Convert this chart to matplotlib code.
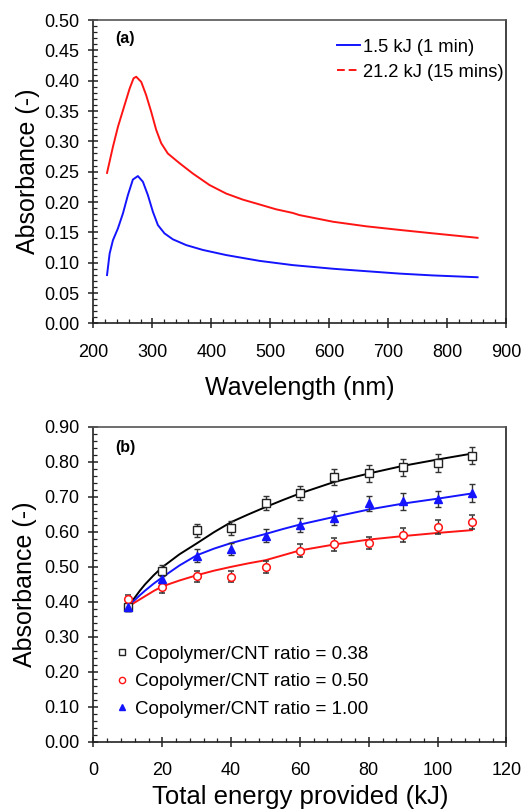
import matplotlib
matplotlib.use("Agg")
import matplotlib.pyplot as plt
from matplotlib.lines import Line2D
from matplotlib.ticker import MultipleLocator, FormatStrFormatter

plt.rcParams['font.family'] = ['Liberation Sans', 'DejaVu Sans']

# ---------------- Panel (a) data ----------------
wl_red = [223, 233, 241.5, 252.8, 261.3, 268, 272.5, 281, 289.4, 297.8, 306.3, 314.8, 326, 345.9, 368.4,
          396.7, 424.8, 453, 481.4, 509.5, 537.7, 549, 606, 662, 719, 775, 851]
abs_red = [0.248, 0.291, 0.324, 0.360, 0.387, 0.404, 0.4065, 0.398, 0.376, 0.349, 0.319, 0.297, 0.280, 0.264, 0.247,
           0.228, 0.214, 0.204, 0.196, 0.188, 0.182, 0.1785, 0.1675, 0.160, 0.154, 0.1484, 0.141]
wl_blue = [223, 227.4, 233, 241.5, 249.9, 258.4, 266.8, 275.3, 283.8, 292.2, 300.7, 309.2, 320.4, 334.6, 357.2,
           385.4, 424.8, 481.4, 537.7, 606, 662, 719, 775, 851]
abs_blue = [0.0796, 0.115, 0.137, 0.1566, 0.181, 0.2115, 0.237, 0.2428, 0.2334, 0.2115, 0.184, 0.162, 0.1483, 0.1385, 0.129,
            0.121, 0.1126, 0.103, 0.096, 0.090, 0.086, 0.082, 0.079, 0.076]
labels_a = ["1.5 kJ (1 min)", "21.2 kJ (15 mins)"]

# ---------------- Panel (b) data ----------------
energy = [10, 20, 30, 40, 50, 60, 70, 80, 90, 100, 110]
abs_038 = [0.385, 0.489, 0.604, 0.610, 0.683, 0.711, 0.757, 0.768, 0.785, 0.797, 0.818]
abs_050 = [0.408, 0.441, 0.473, 0.472, 0.499, 0.546, 0.564, 0.568, 0.592, 0.613, 0.627]
abs_100 = [0.384, 0.465, 0.532, 0.551, 0.589, 0.620, 0.640, 0.682, 0.687, 0.694, 0.711]
err_038 = [0.012, 0.015, 0.018, 0.020, 0.020, 0.020, 0.022, 0.024, 0.024, 0.025, 0.025]
err_050 = [0.012, 0.015, 0.015, 0.015, 0.017, 0.018, 0.018, 0.018, 0.020, 0.020, 0.020]
err_100 = [0.010, 0.015, 0.018, 0.018, 0.018, 0.020, 0.020, 0.022, 0.024, 0.024, 0.025]

fit_x = [10, 11, 12, 13.5, 15, 17.5, 20, 25, 30, 35, 40, 45, 50, 55, 60, 70, 80, 90, 100, 110]
fit_038 = [0.385, 0.399, 0.412, 0.432, 0.450, 0.476, 0.499, 0.536, 0.567, 0.599, 0.628, 0.650, 0.671, 0.691, 0.710, 0.743, 0.767, 0.789, 0.807, 0.824]
fit_050 = [0.385, 0.392, 0.398, 0.407, 0.416, 0.431, 0.444, 0.461, 0.476, 0.489, 0.500, 0.510, 0.519, 0.533, 0.547, 0.564, 0.578, 0.588, 0.597, 0.605]
fit_100 = [0.385, 0.395, 0.405, 0.419, 0.432, 0.452, 0.470, 0.504, 0.533, 0.552, 0.568, 0.581, 0.594, 0.608, 0.621, 0.643, 0.664, 0.681, 0.695, 0.710]
labels_b = ["Copolymer/CNT ratio = 0.38", "Copolymer/CNT ratio = 0.50", "Copolymer/CNT ratio = 1.00"]

fig = plt.figure(figsize=(5.31, 8.11), dpi=100)
ax1 = fig.add_axes([0.176, 0.6013, 0.7778, 0.374])
ax2 = fig.add_axes([0.176, 0.0855, 0.7778, 0.388])

BLUE = '#1414ff'
RED = '#ff1414'


def style(ax):
    for s in ax.spines.values():
        s.set_linewidth(1.2)
        s.set_color('#222222')
    ax.spines['top'].set_color('#555555')
    ax.tick_params(which='major', direction='inout', length=7, width=1.1, color='#222222')
    ax.tick_params(which='minor', direction='in', length=3, width=0.9, color='#222222')
    ax.tick_params(axis='y', which='major', labelsize=13, pad=6.5)
    ax.tick_params(axis='x', which='major', labelsize=13, pad=11.5)


# Panel (a)
ax1.plot(wl_blue, abs_blue, color=BLUE, lw=1.4)
ax1.plot(wl_red, abs_red, color=RED, lw=1.4)
ax1.set_xlim(200, 900)
ax1.set_ylim(0, 0.5)
ax1.xaxis.set_major_locator(MultipleLocator(100))
ax1.xaxis.set_minor_locator(MultipleLocator(20))
ax1.yaxis.set_major_locator(MultipleLocator(0.05))
ax1.yaxis.set_minor_locator(MultipleLocator(0.01))
ax1.yaxis.set_major_formatter(FormatStrFormatter('%.2f'))
style(ax1)
ax1.set_xlabel("Wavelength (nm)", fontsize=18, labelpad=11)
ax1.set_ylabel("Absorbance (-)", fontsize=18, labelpad=3)
ax1.text(0.053, 0.94, "(a)", transform=ax1.transAxes, fontsize=11.5, fontweight='bold', va='center')
handles_a = [Line2D([], [], color=BLUE, lw=1.4, ls='-'),
             Line2D([], [], color=RED, lw=1.4, ls=(0, (4, 2)))]
ax1.legend(handles_a, labels_a, loc='upper right', bbox_to_anchor=(1.02, 0.975), frameon=False,
           fontsize=13.2, handlelength=1.27, handletextpad=0.18, labelspacing=0.45, borderaxespad=0.2)

# Panel (b)
ax2.plot(fit_x, fit_038, color='black', lw=1.4, zorder=2)
ax2.plot(fit_x, fit_100, color=BLUE, lw=1.4, zorder=2)
ax2.plot(fit_x, fit_050, color=RED, lw=1.4, zorder=2)
ekw = dict(ecolor='#333333', elinewidth=1.0, capsize=2, capthick=1.0, ls='none', zorder=3)
ax2.errorbar(energy, abs_038, yerr=err_038, marker='s', ms=5.5, mfc='white', mec='#222222', mew=1.0, **ekw)
ax2.errorbar(energy, abs_050, yerr=err_050, marker='o', ms=5.5, mfc='white', mec=RED, mew=1.1, **ekw)
ax2.errorbar(energy, abs_100, yerr=err_100, marker='^', ms=6, mfc=BLUE, mec=BLUE, mew=1.0, **ekw)
ax2.set_xlim(0, 120)
ax2.set_ylim(0, 0.9)
ax2.xaxis.set_major_locator(MultipleLocator(20))
ax2.xaxis.set_minor_locator(MultipleLocator(4))
ax2.yaxis.set_major_locator(MultipleLocator(0.1))
ax2.yaxis.set_minor_locator(MultipleLocator(0.02))
ax2.yaxis.set_major_formatter(FormatStrFormatter('%.2f'))
style(ax2)
ax2.set_xlabel("Total energy provided (kJ)", fontsize=18.5, labelpad=4)
ax2.set_ylabel("Absorbance (-)", fontsize=18, labelpad=5.5)
ax2.text(0.053, 0.936, "(b)", transform=ax2.transAxes, fontsize=11.5, fontweight='bold', va='center')
handles_b = [Line2D([], [], ls='none', marker='s', ms=4.5, mfc='white', mec='#222222', mew=1.0),
             Line2D([], [], ls='none', marker='o', ms=4.5, mfc='white', mec=RED, mew=1.0),
             Line2D([], [], ls='none', marker='^', ms=4.5, mfc=BLUE, mec=BLUE, mew=1.0)]
ax2.legend(handles_b, labels_b, loc='lower left', bbox_to_anchor=(0.025, 0.041), frameon=False,
           fontsize=13.5, handlelength=0.7, handletextpad=0.35, labelspacing=0.55, borderaxespad=0.2)

fig.savefig("out.png", dpi=100)
